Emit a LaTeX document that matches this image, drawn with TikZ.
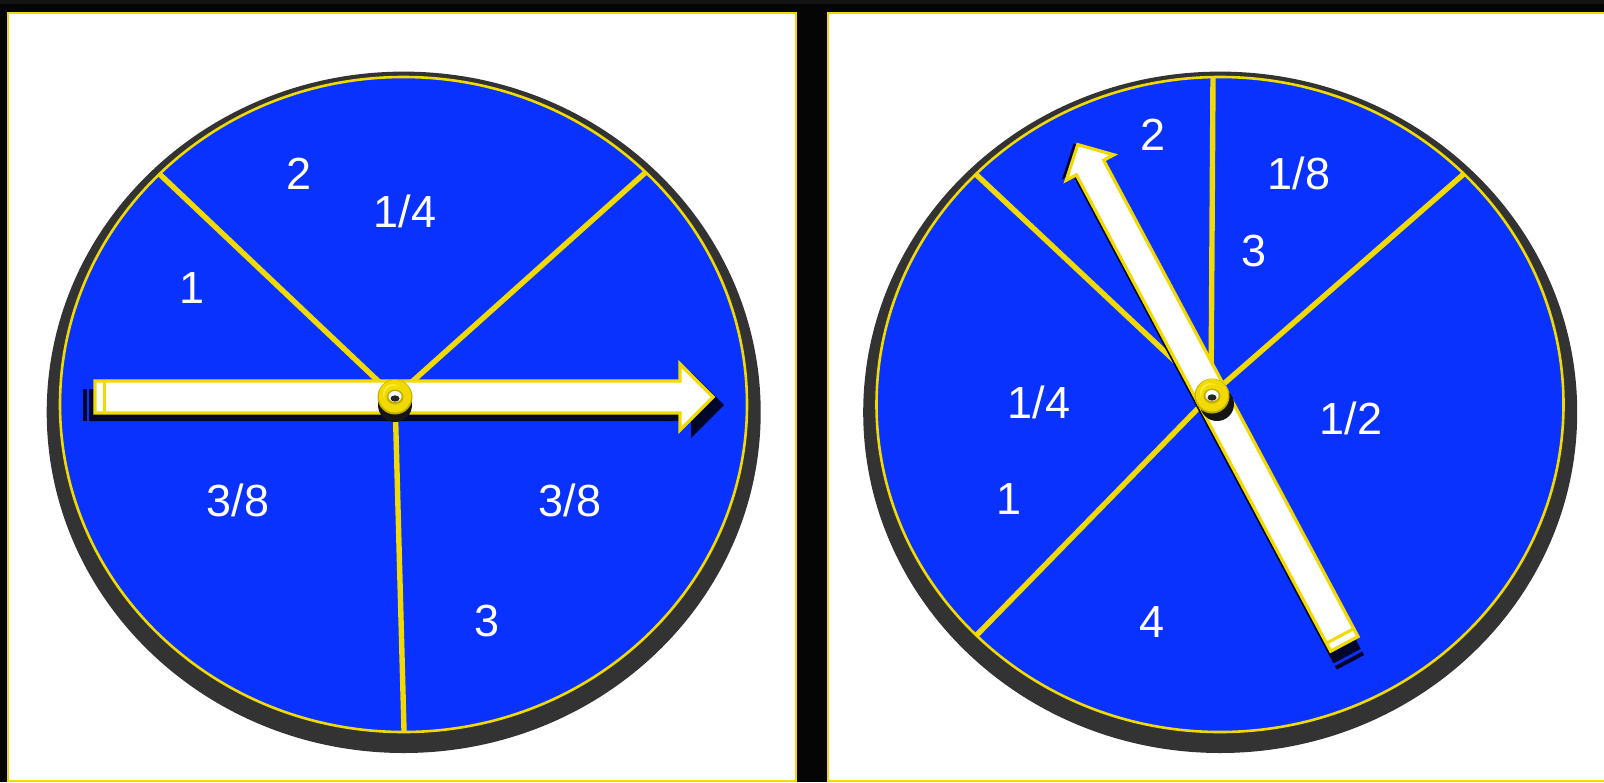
\documentclass[tikz,border=0pt]{standalone}
\usepackage{fontspec}
\setmainfont{Liberation Sans}
\definecolor{bg}{HTML}{050505}
\definecolor{topband}{HTML}{141414}
\definecolor{gold}{HTML}{F0DA00}
\definecolor{golddark}{HTML}{C2AE00}
\definecolor{goldlight}{HTML}{FFEC3A}
\definecolor{wheel}{HTML}{0A32FF}
\definecolor{rim}{HTML}{333333}
\definecolor{shade}{HTML}{00072A}
\definecolor{hubshade}{HTML}{151515}
\tikzset{
  spoke/.style={gold, line width=2.7pt},
  rimline/.style={gold, line width=1.3pt},
  arrowbody/.style={fill=white, draw=gold, line width=1.6pt, line join=miter},
  arrowshadow/.style={fill=shade},
  numtxt/.style={text=white, font=\fontsize{22.5}{27}\selectfont, inner sep=0pt, anchor=base},
  panel/.style={fill=white, draw=gold, line width=1.3pt}
}
\newcommand\drawhub[3]{%
  \fill[hubshade] (#1+#3,#2+8) circle [radius=17];
  \fill[hubshade] (#1-17,#2) -- (#1+17,#2) -- (#1+17+#3,#2+8) -- (#1-17+#3,#2+8) -- cycle;
  \fill[golddark] (#1,#2) circle [radius=17.5];
  \fill[gold] (#1,#2-0.8) circle [radius=16.2];
  \fill[goldlight] (#1-2,#2-3) circle [radius=10];
  \fill[gold] (#1,#2-0.5) circle [radius=11];
  \fill[golddark] (#1,#2) ellipse [x radius=8.5, y radius=7.5];
  \fill[white] (#1,#2-0.5) ellipse [x radius=6.5, y radius=5.5];
  \fill[black!85] (#1,#2+1.5) ellipse [x radius=4.5, y radius=3.2];
}
\begin{document}
\begin{tikzpicture}[x=0.5pt,y=-0.5pt]
\useasboundingbox (0,0) rectangle (1604,782);
\fill[bg] (0,0) rectangle (1604,782);
\fill[topband] (0,0) rectangle (1604,4);
% panels
\filldraw[panel] (8,13) rectangle (796,781);
\filldraw[panel] (828,13) rectangle (1620,781);

% ===== left wheel =====
\fill[rim] (403.7,412.3) ellipse [x radius=357, y radius=340.7];
\fill[wheel] (403.5,404.5) ellipse [x radius=343.5, y radius=327.5];
\coordinate (Lc) at (395,397);
\coordinate (La) at (150,165);
\coordinate (Lb) at (656,163);
\coordinate (Ld) at (404.4,745);
\begin{scope}
  \clip (403.5,404.5) ellipse [x radius=343.5, y radius=327.5];
  \draw[spoke] (Lc) -- (La);
  \draw[spoke] (Lc) -- (Lb);
  \draw[spoke] (Lc) -- (Ld);
\end{scope}
\draw[rimline] (403.5,404.5) ellipse [x radius=343.5, y radius=327.5];
\node[numtxt] (L2) at (299,189.4) {2};
\node[numtxt] (Lq) at (405,227.4) {1/4};
\node[numtxt] (L1) at (192,303.4) {1};
\node[numtxt] (Le1) at (238,516.4) {3/8};
\node[numtxt] (Le2) at (570,516.4) {3/8};
\node[numtxt] (L3) at (487,636.4) {3};
% left arrow shadow
\begin{scope}[shift={(395,405)}]
  \fill[arrowshadow] (-306,-16) -- (296,-16) -- (296,-33) -- (329,0) -- (296,33) -- (296,16) -- (-306,16) -- cycle;
  \fill[arrowshadow] (-312,-16) rectangle (-308,16);
\end{scope}
% left arrow
\begin{scope}[shift={(395,397)}]
  \filldraw[arrowbody] (-300,-16) -- (285,-16) -- (285,-33) -- (318,0) -- (285,33) -- (285,16) -- (-300,16) -- cycle;
  \draw[gold, line width=1.5pt] (-291,-15.5) -- (-291,15.5);
\end{scope}
\drawhub{395}{397}{0}

% ===== right wheel =====
\fill[rim] (1220.2,412.3) ellipse [x radius=357, y radius=340.7];
\fill[wheel] (1220,404.5) ellipse [x radius=343.5, y radius=327.5];
\coordinate (Rc) at (1211,395);
\coordinate (Ru) at (1213.1,60);
\coordinate (Ra) at (966,165);
\coordinate (Rb) at (1474,165);
\coordinate (Rd) at (968,644);
\begin{scope}
  \clip (1220,404.5) ellipse [x radius=343.5, y radius=327.5];
  \draw[spoke] (Rc) -- (Ru);
  \draw[spoke] (Rc) -- (Ra);
  \draw[spoke] (Rc) -- (Rb);
  \draw[spoke] (Rc) -- (Rd);
\end{scope}
\draw[rimline] (1220,404.5) ellipse [x radius=343.5, y radius=327.5];
\node[numtxt] (R2) at (1153,150.4) {2};
\node[numtxt] (R8) at (1299,189.4) {1/8};
\node[numtxt] (R3) at (1254,266.4) {3};
\node[numtxt] (Rq) at (1039,418.4) {1/4};
\node[numtxt] (Rh) at (1351,434.4) {1/2};
\node[numtxt] (R1) at (1009,514.4) {1};
\node[numtxt] (R4) at (1152,637.4) {4};
% right arrow shadow
\begin{scope}[shift={(1212,403)}, rotate=118.1]
  \fill[arrowshadow] (-287,-15.5) -- (268,-15.5) -- (268,-27) -- (294,0) -- (268,27) -- (268,15.5) -- (-287,15.5) -- cycle;
  \fill[arrowshadow] (-294,-15.5) rectangle (-290,15.5);
\end{scope}
% right arrow
\begin{scope}[shift={(1212,396)}, rotate=118.1]
  \filldraw[arrowbody] (-281,-15.5) -- (259,-15.5) -- (259,-27) -- (285,0) -- (259,27) -- (259,15.5) -- (-281,15.5) -- cycle;
  \draw[gold, line width=1.5pt] (-272,-15) -- (-272,15);
\end{scope}
\drawhub{1212}{396}{5}
\end{tikzpicture}
\end{document}
